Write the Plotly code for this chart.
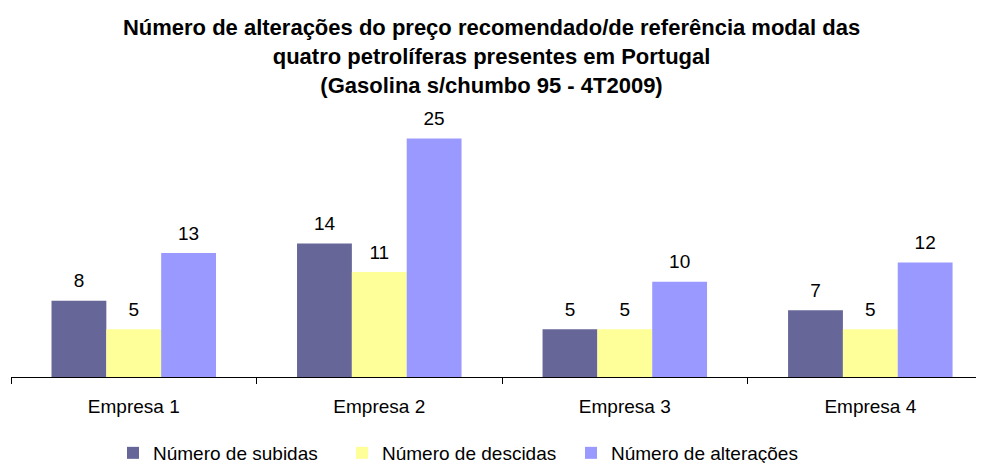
import plotly.graph_objects as go

categories = ["Empresa 1", "Empresa 2", "Empresa 3", "Empresa 4"]
subidas = [8, 14, 5, 7]
descidas = [5, 11, 5, 5]
alteracoes = [13, 25, 10, 12]

series = [
    ("Número de subidas", subidas, "#666699"),
    ("Número de descidas", descidas, "#FFFF99"),
    ("Número de alterações", alteracoes, "#9999FF"),
]

FONT = "Arial, 'Liberation Sans', sans-serif"
GAP = 0.33

fig = go.Figure()
for name, vals, color in series:
    fig.add_trace(go.Bar(
        x=categories, y=vals, name=name,
        marker=dict(color=color, line=dict(width=0)),
    ))
for name, vals, color in series:
    fig.add_trace(go.Scatter(
        x=categories, y=vals, name=name, mode="markers+text",
        marker=dict(size=12, opacity=0),
        text=[str(v) for v in vals], textposition="top center",
        textfont=dict(family=FONT, size=19, color="#000000"),
        showlegend=False, hoverinfo="skip", cliponaxis=False,
    ))

fig.update_layout(
    width=984, height=463,
    barmode="group", bargap=GAP, bargroupgap=0,
    scattermode="group", scattergap=GAP,
    plot_bgcolor="white", paper_bgcolor="white",
    margin=dict(l=3, r=8, t=102, b=94, autoexpand=False),
    font=dict(family=FONT, size=19, color="#000000"),
    title=dict(
        text="<b>Número de alterações do preço recomendado/de referência modal das<br>quatro petrolíferas presentes em Portugal<br>(Gasolina s/chumbo 95 - 4T2009)</b>",
        x=0.4914, xanchor="center", y=0.941, yanchor="top",
        font=dict(family=FONT, size=22, color="#000000"),
    ),
    xaxis=dict(
        range=[-0.5, 3.463], showline=True, linecolor="#000000", linewidth=1,
        ticks="outside", tickson="boundaries", ticklen=6, tickcolor="#000000",
        showgrid=False, tickfont=dict(family=FONT, size=19), automargin=False,
        ticklabelstandoff=12,
    ),
    yaxis=dict(range=[0, 28], visible=False, showgrid=False, automargin=False),
    legend=dict(
        orientation="h", xref="container", yref="container",
        x=0.1067, xanchor="left", y=0.0389, yanchor="middle",
        font=dict(family=FONT, size=19), itemwidth=30, entrywidth=184,
    ),
    showlegend=True,
)

fig.write_html("out.html")
